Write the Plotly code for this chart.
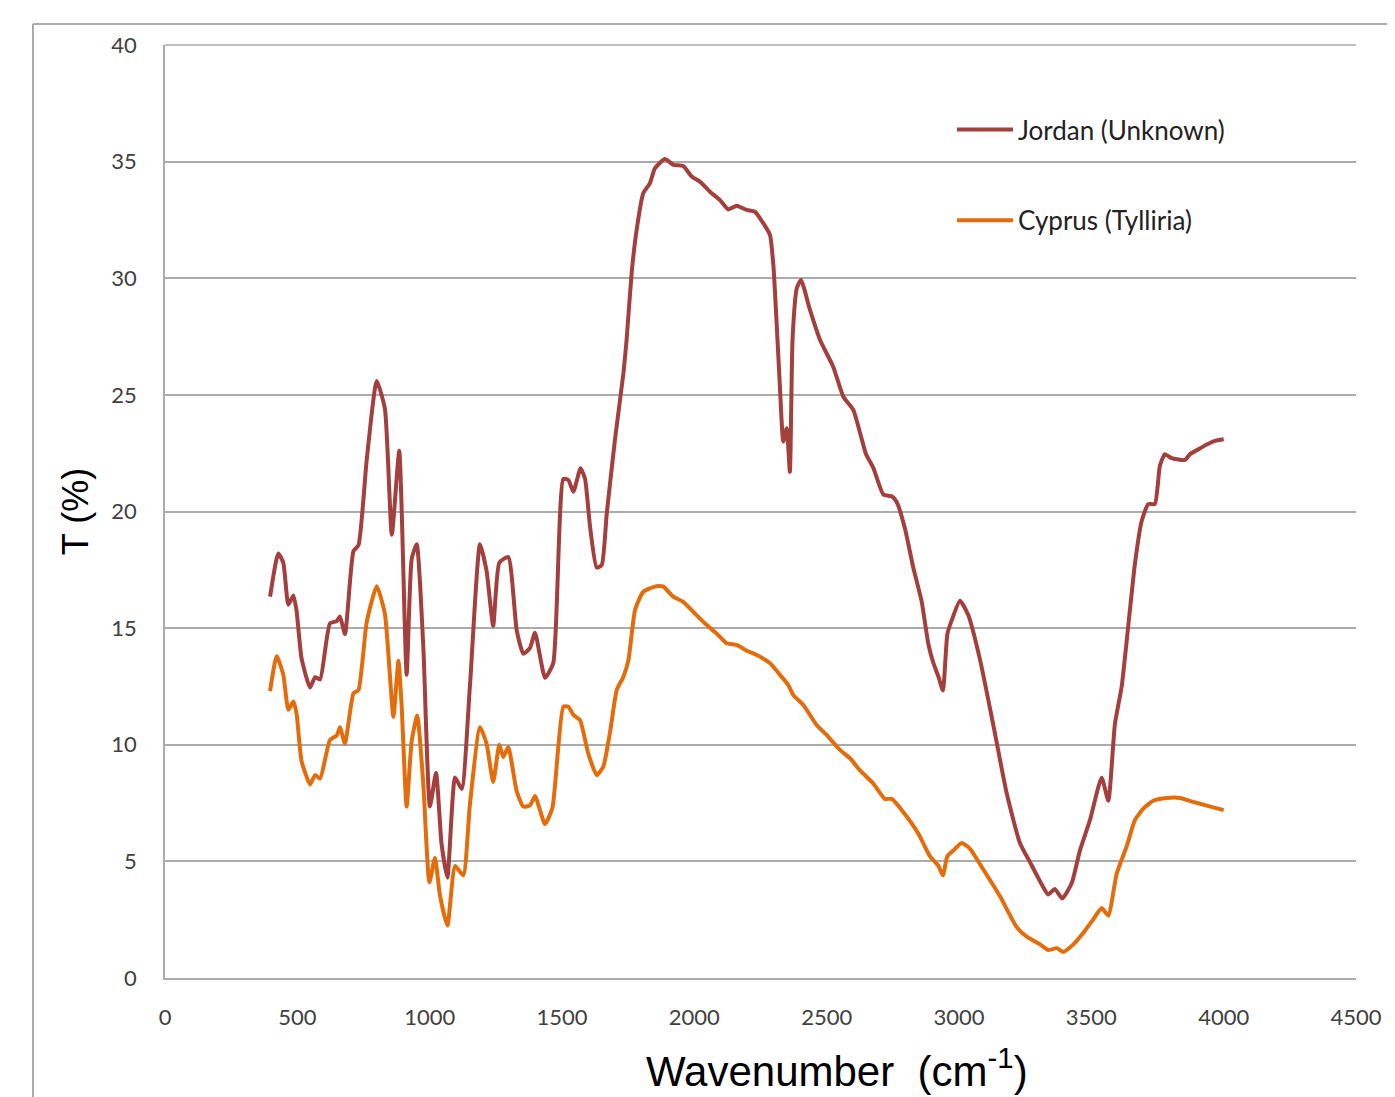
import plotly.graph_objects as go

jordan_x = [397, 428, 447, 466, 485, 497, 516, 548, 567, 586, 623, 649, 661, 680, 712, 731, 762, 800, 831, 857,
            885, 913, 932, 951, 976, 1001, 1024, 1045, 1067, 1096, 1121, 1152, 1190, 1215, 1240, 1263, 1297, 1329,
            1354, 1379, 1398, 1436, 1467, 1505, 1524, 1543, 1570, 1587, 1606, 1631, 1650, 1669, 1700, 1732, 1744,
            1763, 1782, 1807, 1832, 1851, 1889, 1921, 1958, 1990, 2021, 2059, 2097, 2128, 2160, 2198, 2229, 2261,
            2286, 2299, 2311, 2324, 2336, 2349, 2361, 2371, 2387, 2403, 2437, 2475, 2525, 2563, 2601, 2648, 2676,
            2714, 2746, 2765, 2796, 2827, 2859, 2884, 2903, 2922, 2939, 2956, 2972, 3004, 3035, 3079, 3129, 3180,
            3230, 3268, 3306, 3337, 3362, 3390, 3426, 3457, 3495, 3539, 3564, 3589, 3615, 3640, 3665, 3690, 3715,
            3740, 3759, 3778, 3803, 3854, 3873, 3910, 3936, 3967, 4000]
jordan_t = [16.35, 18.2, 17.8, 16.0, 16.4, 15.75, 13.7, 12.45, 12.9, 12.8, 15.2, 15.3, 15.5, 14.75, 18.3, 18.55,
            22.2, 25.6, 24.4, 19.0, 22.6, 13.0, 17.96, 18.6, 14.2, 7.35, 8.8, 5.74, 4.3, 8.6, 8.1, 12.5, 18.6,
            17.45, 15.1, 17.8, 18.05, 14.9, 13.9, 14.15, 14.8, 12.87, 13.5, 21.4, 21.35, 20.85, 21.85, 21.4, 19.35,
            17.6, 17.7, 19.9, 23.07, 25.93, 27.35, 30.21, 32.07, 33.64, 34.07, 34.71, 35.11, 34.86, 34.81, 34.36,
            34.14, 33.71, 33.35, 32.95, 33.11, 32.93, 32.85, 32.35, 31.85, 30.5, 28.07, 25.2, 23.0, 23.57, 21.7,
            27.35, 29.57, 29.93, 28.64, 27.35, 26.2, 24.92, 24.35, 22.48, 21.88, 20.73, 20.65, 20.4, 19.26, 17.61,
            16.14, 14.33, 13.51, 12.93, 12.33, 14.74, 15.32, 16.17, 15.56, 13.67, 10.88, 7.93, 5.79, 4.97, 4.15,
            3.58, 3.82, 3.41, 4.07, 5.47, 6.78, 8.59, 7.6, 10.88, 12.52, 15.15, 17.78, 19.58, 20.32, 20.32, 21.96,
            22.46, 22.29, 22.21, 22.46, 22.7, 22.87, 23.03, 23.1]

cyprus_x = [397, 422, 447, 466, 485, 497, 516, 548, 567, 586, 623, 649, 661, 680, 712, 731, 762, 800, 831, 863,
            882, 894, 913, 932, 953, 976, 999, 1020, 1039, 1067, 1096, 1127, 1152, 1190, 1215, 1240, 1263, 1278,
            1297, 1329, 1354, 1379, 1398, 1436, 1464, 1505, 1524, 1543, 1568, 1599, 1631, 1656, 1681, 1707, 1732,
            1751, 1776, 1807, 1858, 1883, 1920, 1958, 1996, 2047, 2083, 2122, 2160, 2198, 2236, 2286, 2324, 2355,
            2374, 2412, 2462, 2500, 2550, 2590, 2626, 2676, 2720, 2746, 2790, 2846, 2890, 2922, 2939, 2956, 2979,
            3010, 3041, 3092, 3155, 3218, 3256, 3306, 3337, 3369, 3394, 3432, 3470, 3507, 3539, 3564, 3596, 3633,
            3665, 3697, 3734, 3785, 3835, 3885, 3936, 4000]
cyprus_t = [12.3, 13.8, 13.0, 11.5, 11.85, 11.34, 9.3, 8.3, 8.7, 8.55, 10.2, 10.4, 10.75, 10.05, 12.2, 12.35,
            15.25, 16.8, 15.6, 11.2, 13.6, 11.7, 7.35, 10.15, 11.25, 8.3, 4.1, 5.15, 3.53, 2.25, 4.8, 4.4, 7.44,
            10.75, 10.05, 8.4, 10.0, 9.47, 9.9, 8.0, 7.35, 7.4, 7.8, 6.6, 7.3, 11.63, 11.63, 11.28, 11.06, 9.63,
            8.7, 9.06, 10.5, 12.35, 12.92, 13.63, 15.78, 16.56, 16.8, 16.78, 16.35, 16.13, 15.7, 15.13, 14.78,
            14.35, 14.28, 14.03, 13.85, 13.49, 12.99, 12.56, 12.13, 11.7, 10.85, 10.42, 9.78, 9.4, 8.9, 8.34, 7.68,
            7.68, 7.11, 6.2, 5.22, 4.81, 4.4, 5.22, 5.47, 5.79, 5.55, 4.65, 3.5, 2.18, 1.77, 1.44, 1.2, 1.28, 1.12,
            1.44, 1.94, 2.51, 3.0, 2.68, 4.48, 5.63, 6.78, 7.27, 7.6, 7.72, 7.72, 7.55, 7.39, 7.2]

x_ticks = [0, 500, 1000, 1500, 2000, 2500, 3000, 3500, 4000, 4500]
y_ticks = [0, 5, 10, 15, 20, 25, 30, 35, 40]

RED = "#A33F3D"
ORANGE = "#E46C0A"
GRID = "#ABABAB"
TXT = "#404040"
FONT = "Lato, Open Sans, sans-serif"
ARIAL = "Liberation Sans, Arial, sans-serif"

# page body has an 8px margin: plot area target is x 165..1356, y 45..978 in the window
OFF = 8
L, R, T, B = 165 - OFF, 1395 - 1356 + OFF, 45 - OFF, 1097 - 978 + OFF
PW, PH = 1356 - 165, 978 - 45


def px_x(p):
    return (p - 165) / PW


def px_y(p):
    return (978 - p) / PH


fig = go.Figure()
fig.add_trace(go.Scatter(x=jordan_x, y=jordan_t, mode="lines", name="Jordan (Unknown)", legendgroup="j",
                         line=dict(color=RED, width=4, shape="spline", smoothing=0.5)))
fig.add_trace(go.Scatter(x=cyprus_x, y=cyprus_t, mode="lines", name="Cyprus (Tylliria)", legendgroup="c",
                         line=dict(color=ORANGE, width=4, shape="spline", smoothing=0.5)))

fig.update_layout(
    width=1395, height=1097,
    margin=dict(l=L, r=R, t=T, b=B),
    paper_bgcolor="white", plot_bgcolor="white",
    legend=dict(x=px_x(952), y=px_y(106), xanchor="left", yanchor="top", bgcolor="rgba(0,0,0,0)",
                font=dict(family=FONT, size=26, color="#222222"), tracegroupgap=54,
                itemwidth=56),
    xaxis=dict(range=[0, 4500], tickvals=x_ticks, showgrid=False, zeroline=False,
               showline=True, linecolor=GRID, linewidth=1.5, ticks="",
               tickfont=dict(family=FONT, size=22, color=TXT), ticklabelstandoff=19),
    yaxis=dict(range=[0, 40], tickvals=y_ticks, showgrid=True, gridcolor=GRID, gridwidth=1.5,
               zeroline=False, showline=True, linecolor=GRID, linewidth=1.5, ticks="",
               tickfont=dict(family=FONT, size=22, color=TXT), ticklabelstandoff=22,
               title=dict(text="T (%)", font=dict(family=ARIAL, size=36, color="black"), standoff=12)),
    annotations=[dict(text="Wavenumber  (cm<sup>-1</sup>)", xref="paper", yref="paper",
                      x=px_x(837), y=px_y(1068), xanchor="center", yanchor="middle",
                      showarrow=False, font=dict(family=ARIAL, size=42, color="black"))],
    shapes=[dict(type="line", xref="paper", yref="paper", x0=px_x(33), x1=1.1,
                 y0=px_y(24), y1=px_y(24), line=dict(color=GRID, width=2)),
            dict(type="line", xref="paper", yref="paper", x0=px_x(33), x1=px_x(33),
                 y0=px_y(24), y1=-0.2, line=dict(color=GRID, width=2)),
            dict(type="line", xref="paper", yref="paper", x0=0, x1=1, y0=1, y1=1,
                 line=dict(color=GRID, width=1.5))],
)
fig.write_html("out.html")
